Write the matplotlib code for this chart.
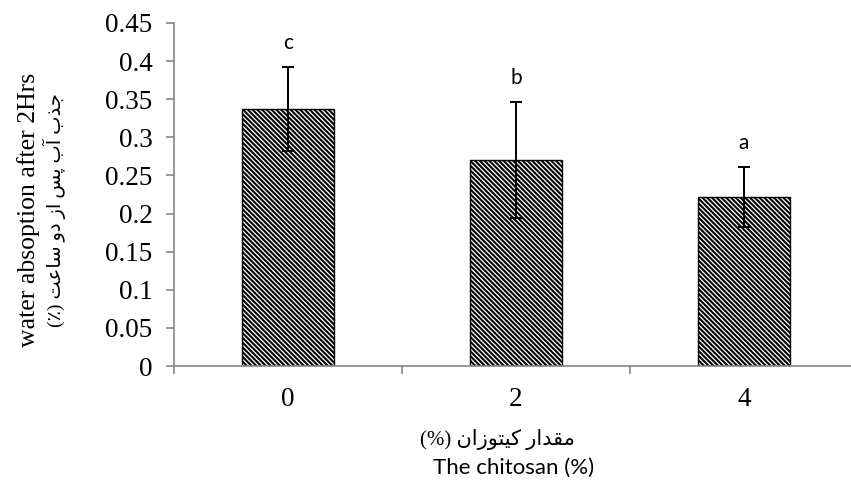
import numpy as np
import matplotlib
matplotlib.use("Agg")
import matplotlib.pyplot as plt

# data
chitosan = ["0", "2", "4"]
absorption = [0.337, 0.270, 0.222]
abs_sd = [0.055, 0.076, 0.039]
groups = ["c", "b", "a"]

ylabel_en = "water absoption after 2Hrs"
ylabel_fa = "جذب آب پس از دو ساعت (٪)"
xlabel_fa = "مقدار کیتوزان (%)"
xlabel_en = "The chitosan (%)"

# tiny Persian shaper: (isolated, final, initial, medial); 2 forms = joins right only
FORMS = {
    "\u062C": ("\uFE9D", "\uFE9E", "\uFE9F", "\uFEA0"),  # jeem
    "\u0630": ("\uFEAB", "\uFEAC"),                      # thal
    "\u0628": ("\uFE8F", "\uFE90", "\uFE91", "\uFE92"),  # beh
    "\u0622": ("\uFE81", "\uFE82"),                      # alef madda
    "\u067E": ("\uFB56", "\uFB57", "\uFB58", "\uFB59"),  # peh
    "\u0633": ("\uFEB1", "\uFEB2", "\uFEB3", "\uFEB4"),  # seen
    "\u0627": ("\uFE8D", "\uFE8E"),                      # alef
    "\u0632": ("\uFEAF", "\uFEB0"),                      # zain
    "\u062F": ("\uFEA9", "\uFEAA"),                      # dal
    "\u0648": ("\uFEED", "\uFEEE"),                      # waw
    "\u0639": ("\uFEC9", "\uFECA", "\uFECB", "\uFECC"),  # ain
    "\u062A": ("\uFE95", "\uFE96", "\uFE97", "\uFE98"),  # teh
    "\u0645": ("\uFEE1", "\uFEE2", "\uFEE3", "\uFEE4"),  # meem
    "\u0642": ("\uFED5", "\uFED6", "\uFED7", "\uFED8"),  # qaf
    "\u0631": ("\uFEAD", "\uFEAE"),                      # reh
    "\u06A9": ("\uFB8E", "\uFB8F", "\uFB90", "\uFB91"),  # keheh
    "\u06CC": ("\uFBFC", "\uFBFD", "\uFBFE", "\uFBFF"),  # farsi yeh
    "\u0646": ("\uFEE5", "\uFEE6", "\uFEE7", "\uFEE8"),  # noon
}


def shape_fa(text):
    out = []
    for i, ch in enumerate(text):
        if ch not in FORMS:
            out.append(ch)
            continue
        prev = text[i - 1] if i > 0 else ""
        nxt = text[i + 1] if i + 1 < len(text) else ""
        f = FORMS[ch]
        join_prev = prev in FORMS and len(FORMS[prev]) == 4
        join_next = len(f) == 4 and nxt in FORMS
        if join_prev and join_next:
            out.append(f[3])
        elif join_prev:
            out.append(f[1])
        elif join_next:
            out.append(f[2])
        else:
            out.append(f[0])
    mirror = {"(": ")", ")": "("}
    return "".join(mirror.get(c, c) for c in reversed(out))


W, H = 851, 490
fig = plt.figure(figsize=(W / 100, H / 100), dpi=100)
ax = fig.add_axes([174 / W, (H - 366) / H, 684 / W, 343 / H])

plt.rcParams["hatch.linewidth"] = 1.5
x = np.arange(len(chitosan))
ax.bar(x, absorption, width=0.40, color="white", edgecolor="black",
       hatch="\\" * 7, linewidth=1.0, zorder=2)
ax.errorbar(x, absorption, yerr=abs_sd, fmt="none", ecolor="black",
            elinewidth=1.4, capsize=4.5, capthick=1.4, zorder=3)

for xi, m, s, g in zip(x, absorption, abs_sd, groups):
    ax.text(xi, m + s + 0.024, g, ha="center", va="baseline",
            fontsize=15, family="Lato", color="black")

ax.set_xlim(-0.5, 2.5)
ax.set_ylim(0, 0.45)
ax.set_yticks(np.arange(0, 0.451, 0.05))
ax.set_yticklabels(["0", "0.05", "0.1", "0.15", "0.2", "0.25", "0.3",
                    "0.35", "0.4", "0.45"])
ax.set_xticks(x)
ax.set_xticklabels(chitosan)
ax.set_xticks([-0.5, 0.5, 1.5, 2.5], minor=True)

gray = "#868686"
for side in ["top", "right"]:
    ax.spines[side].set_visible(False)
for side in ["left", "bottom"]:
    ax.spines[side].set_color(gray)
    ax.spines[side].set_linewidth(1.2)

ax.tick_params(axis="y", direction="out", length=5.5, width=1.2, color=gray,
               pad=10, labelsize=19.5, labelfontfamily="Liberation Serif")
ax.tick_params(axis="x", which="major", length=0, pad=15, labelsize=19.5,
               labelfontfamily="Liberation Serif")
ax.tick_params(axis="x", which="minor", direction="out", length=5.5,
               width=1.2, color=gray)

fig.text(29 / W, 1 - 210 / H, ylabel_en, rotation=90, ha="center",
         va="center", fontsize=18.5, family="Liberation Serif")
fig.text(54 / W, 1 - 210 / H, shape_fa(ylabel_fa), rotation=90,
         ha="center", va="center", fontsize=14,
         family=["Liberation Serif", "DejaVu Sans"])
fig.text(497 / W, 1 - 439 / H, shape_fa(xlabel_fa), ha="center",
         va="center", fontsize=15, family=["Liberation Serif", "DejaVu Sans"])
fig.text(514 / W, 1 - 468 / H, xlabel_en, ha="center", va="center",
         fontsize=16, family="Lato")

fig.savefig("out.png", dpi=100)
